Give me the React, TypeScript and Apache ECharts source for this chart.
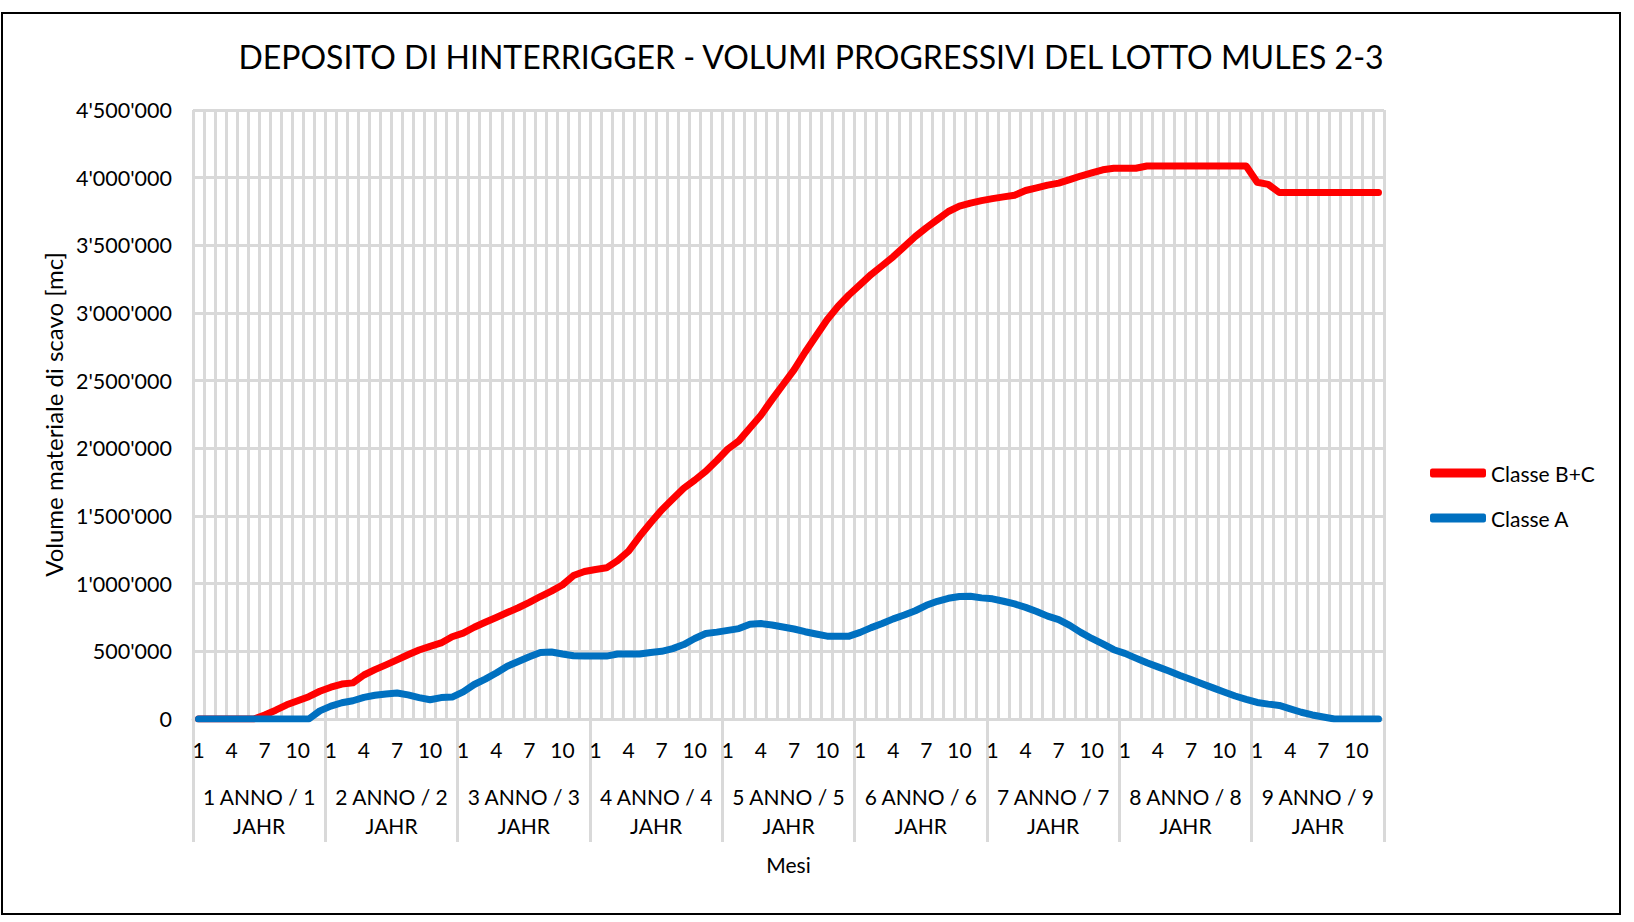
import React, { useEffect, useRef } from "react";
import * as echarts from "echarts";

const TITLE = "DEPOSITO DI HINTERRIGGER - VOLUMI PROGRESSIVI DEL LOTTO MULES 2-3";
const Y_NAME = "Volume materiale di scavo [mc]";
const X_NAME = "Mesi";

const monthLabels = ["1", "2", "3", "4", "5", "6", "7", "8", "9", "10", "11", "12"];
const yearLabels = [
  "1 ANNO / 1\nJAHR",
  "2 ANNO / 2\nJAHR",
  "3 ANNO / 3\nJAHR",
  "4 ANNO / 4\nJAHR",
  "5 ANNO / 5\nJAHR",
  "6 ANNO / 6\nJAHR",
  "7 ANNO / 7\nJAHR",
  "8 ANNO / 8\nJAHR",
  "9 ANNO / 9\nJAHR",
];

const seriesNames = ["Classe B+C", "Classe A"];

// Classe B+C, month by month (9 years x 12 months)
const classeBC = [
  0, 0, 0, 0, 0, 0, 30000, 65000, 105000, 135000, 165000, 205000,
  235000, 258000, 267000, 325000, 365000, 400000, 437000, 475000, 510000, 537000, 562000, 608000,
  635000, 678000, 715000, 750000, 787000, 822000, 862000, 905000, 945000, 990000, 1060000, 1090000,
  1105000, 1117000, 1170000, 1240000, 1350000, 1450000, 1545000, 1625000, 1705000, 1765000, 1830000, 1910000,
  1995000, 2055000, 2150000, 2245000, 2360000, 2470000, 2580000, 2710000, 2830000, 2950000, 3050000, 3135000,
  3210000, 3285000, 3350000, 3416000, 3490000, 3565000, 3630000, 3690000, 3750000, 3790000, 3812000, 3830000,
  3845000, 3858000, 3870000, 3905000, 3925000, 3945000, 3960000, 3985000, 4012000, 4035000, 4058000, 4069000,
  4069000, 4070000, 4086000, 4086000, 4086000, 4086000, 4086000, 4086000, 4086000, 4086000, 4086000, 4086000,
  3966000, 3950000, 3890000, 3890000, 3890000, 3890000, 3890000, 3890000, 3890000, 3890000, 3890000, 3890000,
];

// Classe A, month by month
const classeA = [
  0, 0, 0, 0, 0, 0, 0, 0, 0, 0, 0, 60000,
  95000, 120000, 135000, 160000, 175000, 185000, 192000, 178000, 158000, 142000, 158000, 162000,
  200000, 255000, 295000, 340000, 390000, 425000, 460000, 492000, 495000, 480000, 467000, 465000,
  465000, 465000, 480000, 480000, 480000, 492000, 500000, 520000, 550000, 595000, 632000, 642000,
  655000, 668000, 700000, 705000, 695000, 680000, 665000, 645000, 628000, 612000, 612000, 612000,
  640000, 675000, 705000, 740000, 768000, 800000, 840000, 870000, 892000, 905000, 907000, 895000,
  888000, 870000, 850000, 825000, 795000, 760000, 735000, 692000, 640000, 595000, 555000, 512000,
  485000, 450000, 415000, 385000, 355000, 322000, 292000, 260000, 230000, 200000, 170000, 145000,
  122000, 110000, 100000, 75000, 50000, 30000, 15000, 0, 0, 0, 0, 0,
];

const FONT = "Lato, 'Open Sans', sans-serif";
const GRID_COLOR = "#D9D9D9";

function fmt(v: number): string {
  return String(Math.round(v)).replace(/\B(?=(\d{3})+(?!\d))/g, "'");
}

export default function App() {
  const ref = useRef<HTMLDivElement>(null);

  useEffect(() => {
    if (!ref.current) return;
    const chart = echarts.init(ref.current, undefined, { renderer: "svg" });
    const monthCats: string[] = [];
    yearLabels.forEach(() => monthLabels.forEach((m) => monthCats.push(m)));

    chart.setOption({
      animation: false,
      backgroundColor: "#ffffff",
      textStyle: { fontFamily: FONT },
      title: {
        text: TITLE,
        left: 806,
        textAlign: "center",
        top: 35,
        textStyle: { fontFamily: FONT, fontSize: 32, fontWeight: "normal", color: "#000" },
      },
      graphic: [
        {
          type: "rect",
          shape: { x: 2, y: 13, width: 1618, height: 901 },
          style: { fill: "none", stroke: "#000", lineWidth: 2 },
          silent: true,
        },
      ],
      legend: {
        data: seriesNames,
        orient: "vertical",
        left: 1425,
        top: 456,
        itemWidth: 56,
        itemHeight: 9,
        itemGap: 21,
        icon: "roundRect",
        textStyle: { fontFamily: FONT, fontSize: 21, color: "#000", lineHeight: 24 },
      },
      grid: { left: 193, right: 250, top: 110, bottom: 203 },
      xAxis: [
        {
          type: "category",
          data: monthCats,
          boundaryGap: true,
          axisLine: { show: true, lineStyle: { color: GRID_COLOR, width: 3 } },
          axisTick: { show: false },
          axisLabel: {
            interval: 2,
            margin: 18,
            fontFamily: FONT,
            fontSize: 21,
            lineHeight: 24,
            color: "#000",
          },
          splitLine: { show: true, interval: 0, lineStyle: { color: GRID_COLOR, width: 3 } },
        },
        {
          type: "category",
          data: yearLabels,
          position: "bottom",
          boundaryGap: true,
          axisLine: { show: false },
          axisTick: { show: true, interval: 0, length: 123, lineStyle: { color: GRID_COLOR, width: 3 } },
          axisLabel: {
            interval: 0,
            margin: 63,
            fontFamily: FONT,
            fontSize: 21,
            lineHeight: 29,
            color: "#000",
          },
          splitLine: { show: false },
          name: X_NAME,
          nameLocation: "middle",
          nameGap: 135,
          nameTextStyle: { fontFamily: FONT, fontSize: 21, color: "#000" },
        },
      ],
      yAxis: {
        type: "value",
        min: 0,
        max: 4500000,
        interval: 500000,
        axisLine: { show: false },
        axisTick: { show: false },
        axisLabel: {
          formatter: (v: number) => fmt(v),
          margin: 21,
          fontFamily: FONT,
          fontSize: 21.5,
          color: "#000",
        },
        splitLine: { show: true, lineStyle: { color: GRID_COLOR, width: 3 } },
        name: Y_NAME,
        nameLocation: "middle",
        nameGap: 127,
        nameRotate: 90,
        nameTextStyle: { fontFamily: FONT, fontSize: 24, color: "#000" },
      },
      series: [
        {
          name: seriesNames[0],
          type: "line",
          data: classeBC,
          xAxisIndex: 0,
          symbol: "none",
          smooth: false,
          lineStyle: { color: "#FF0000", width: 7, cap: "round", join: "round" },
          itemStyle: { color: "#FF0000" },
        },
        {
          name: seriesNames[1],
          type: "line",
          data: classeA,
          xAxisIndex: 0,
          symbol: "none",
          smooth: false,
          lineStyle: { color: "#0070C0", width: 7, cap: "round", join: "round" },
          itemStyle: { color: "#0070C0" },
        },
      ],
    });

    return () => chart.dispose();
  }, []);

  return (
    <div
      ref={ref}
      style={{ position: "fixed", left: 0, top: 0, width: 1634, height: 922, background: "#fff" }}
    />
  );
}
